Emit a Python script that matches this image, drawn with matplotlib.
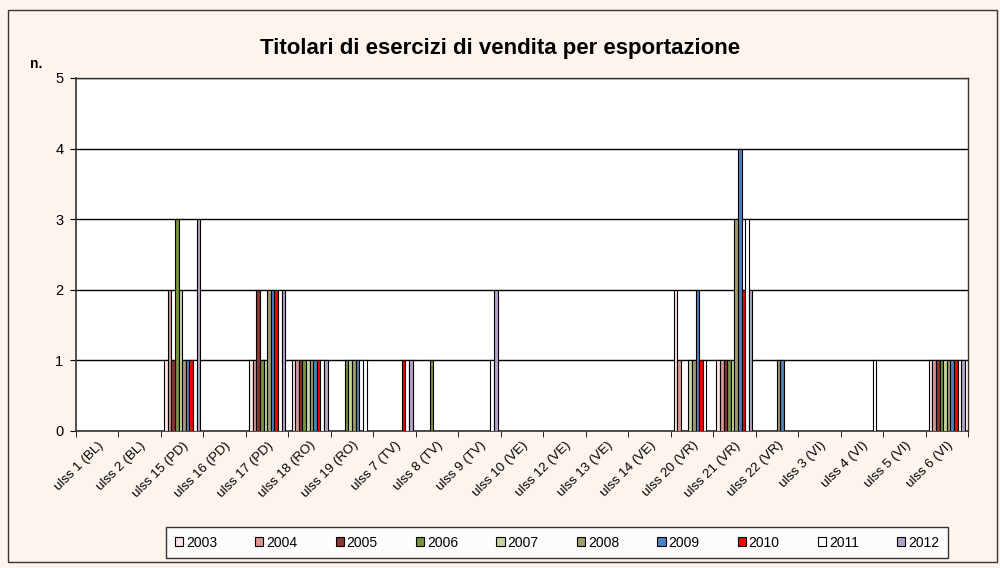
import numpy as np
import matplotlib
matplotlib.use("Agg")
import matplotlib.pyplot as plt
from matplotlib.patches import Rectangle

plt.rcParams['font.family'] = ['Liberation Sans', 'DejaVu Sans']

categories = ["ulss 1 (BL)", "ulss 2 (BL)", "ulss 15 (PD)", "ulss 16 (PD)", "ulss 17 (PD)",
              "ulss 18 (RO)", "ulss 19 (RO)", "ulss 7 (TV)", "ulss 8 (TV)", "ulss 9 (TV)",
              "ulss 10 (VE)", "ulss 12 (VE)", "ulss 13 (VE)", "ulss 14 (VE)", "ulss 20 (VR)",
              "ulss 21 (VR)", "ulss 22 (VR)", "ulss 3 (VI)", "ulss 4 (VI)", "ulss 5 (VI)",
              "ulss 6 (VI)"]
years = ["2003", "2004", "2005", "2006", "2007", "2008", "2009", "2010", "2011", "2012"]

# one list per year, values in category order
v2003 = [0, 0, 1, 0, 1, 1, 0, 0, 0, 0, 0, 0, 0, 0, 2, 1, 0, 0, 0, 0, 1]
v2004 = [0, 0, 2, 0, 1, 1, 0, 0, 0, 0, 0, 0, 0, 0, 1, 1, 0, 0, 0, 0, 1]
v2005 = [0, 0, 1, 0, 2, 1, 0, 0, 0, 0, 0, 0, 0, 0, 0, 1, 0, 0, 0, 0, 1]
v2006 = [0, 0, 3, 0, 1, 1, 1, 0, 1, 0, 0, 0, 0, 0, 0, 1, 0, 0, 0, 0, 1]
v2007 = [0, 0, 2, 0, 1, 1, 1, 0, 0, 0, 0, 0, 0, 0, 1, 1, 0, 0, 0, 0, 1]
v2008 = [0, 0, 1, 0, 2, 1, 1, 0, 0, 0, 0, 0, 0, 0, 1, 3, 1, 0, 0, 0, 1]
v2009 = [0, 0, 1, 0, 2, 1, 1, 0, 0, 0, 0, 0, 0, 0, 2, 4, 1, 0, 0, 0, 1]
v2010 = [0, 0, 1, 0, 2, 1, 0, 1, 0, 0, 0, 0, 0, 0, 1, 2, 0, 0, 0, 0, 1]
v2011 = [0, 0, 1, 0, 2, 1, 1, 1, 0, 1, 0, 0, 0, 0, 1, 3, 0, 0, 1, 0, 1]
v2012 = [0, 0, 3, 0, 2, 1, 0, 1, 0, 2, 0, 0, 0, 0, 0, 2, 0, 0, 0, 0, 1]
series = [v2003, v2004, v2005, v2006, v2007, v2008, v2009, v2010, v2011, v2012]

colors = ["#FBE4E3", "#D99694", "#8E3331", "#77933C", "#C3D69B",
          "#A09C6E", "#4F81BD", "#FF0000", "#FFFFFF", "#B3A2C7"]

bg = "#FDF4EE"
fig = plt.figure(figsize=(10, 5.68), dpi=100, facecolor=bg)
ax = fig.add_axes([0.076, 0.2412, 0.892, 0.6215])
ax.set_facecolor("white")

x = np.arange(len(categories))
n = len(years)
w = 0.85 / n
for i, (yr, vals) in enumerate(zip(years, series)):
    ax.bar(x - 0.425 + w * (i + 0.5), vals, width=w, color=colors[i],
           edgecolor="black", linewidth=0.8, label=yr, zorder=3)

ax.set_xlim(-0.5, len(categories) - 0.5)
ax.set_ylim(0, 5)
ax.set_yticks(range(6))
ax.set_yticklabels([str(v) for v in range(6)], fontsize=10.5)
ax.yaxis.grid(True, color="black", linewidth=1.0, zorder=1)
ax.set_xticks(x)
ax.set_xticklabels(categories, rotation=45, ha="right", rotation_mode="anchor", fontsize=9.5)
ax.tick_params(axis="x", length=0, pad=6)
ax.set_xticks(np.arange(-0.5, len(categories)), minor=True)
ax.tick_params(axis="x", which="minor", length=4, direction="out", color="black")
ax.tick_params(axis="y", length=4, direction="out", color="black", pad=5)
for s in ax.spines.values():
    s.set_color("#333333")
    s.set_linewidth(1.0)
ax.spines["left"].set_linewidth(1.2)
ax.spines["bottom"].set_linewidth(1.2)

fig.text(0.5, 0.914, "Titolari di esercizi di vendita per esportazione",
         ha="center", va="center", fontsize=16, fontweight="bold")
fig.text(0.03, 0.888, "n.", ha="left", va="center", fontsize=10, fontweight="bold")

leg = fig.legend(loc="center", bbox_to_anchor=(0.557, 0.0445), ncol=10, fontsize=10,
                 frameon=True, fancybox=False, edgecolor="black", handlelength=0.6,
                 handleheight=0.6, handletextpad=0.2, columnspacing=2.75,
                 borderpad=0.6)
leg.get_frame().set_linewidth(1.0)
leg.get_frame().set_facecolor("white")

fig.patches.append(Rectangle((0.008, 0.01), 0.989, 0.972, transform=fig.transFigure,
                             fill=False, edgecolor="#333333", linewidth=1.0))

fig.savefig("out.png", dpi=100, facecolor=bg)
